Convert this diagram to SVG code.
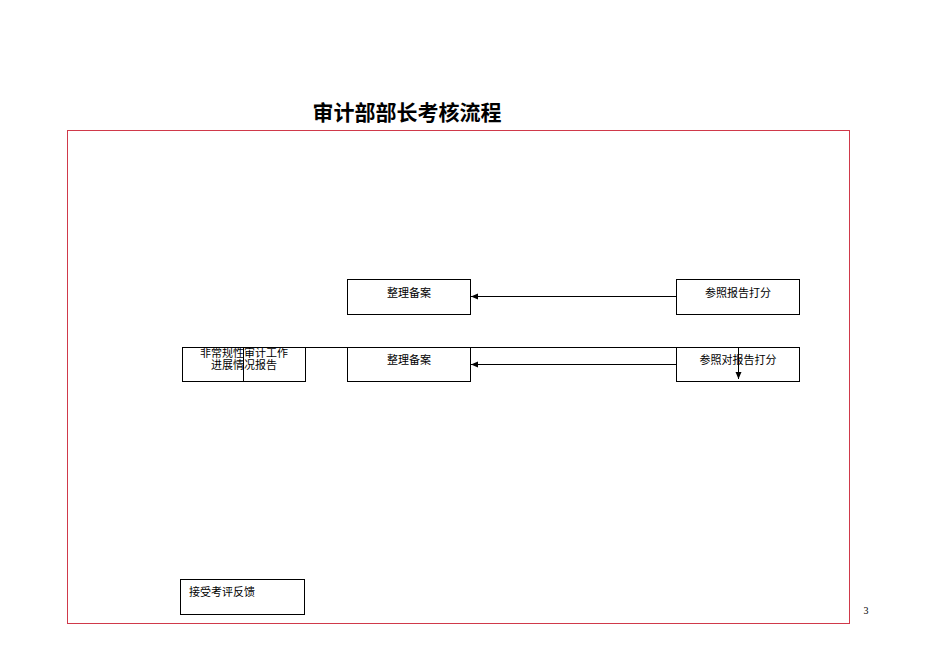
<svg xmlns="http://www.w3.org/2000/svg" width="950" height="672" viewBox="0 0 950 672">
<defs>
<style>
.b{fill:#fff;stroke:#000;stroke-width:1}
.t{font-family:"Liberation Serif","Noto Sans CJK SC",serif;font-size:11px;fill:#000}
.c{fill:none;stroke:#000;stroke-width:1}
</style>
<marker id="a" markerWidth="8" markerHeight="8" refX="7" refY="4" orient="auto" markerUnits="userSpaceOnUse"><path d="M0,1 L7,4 L0,7 Z" fill="#000"/></marker>
</defs>
<rect width="950" height="672" fill="#fff"/>
<text x="407" y="120" text-anchor="middle" style="font-family:'Noto Sans CJK SC',sans-serif;font-size:21px;font-weight:bold">审计部部长考核流程</text>
<rect x="67.5" y="130.5" width="782" height="493" fill="none" stroke="#d0394a" stroke-width="1"/>
<g id="n1"><rect class="b" x="347.5" y="279.5" width="123" height="35"/><text class="t" x="409" y="297" text-anchor="middle">整理备案</text></g>
<g id="n2"><rect class="b" x="676.5" y="279.5" width="123" height="35"/><text class="t" x="738" y="297" text-anchor="middle">参照报告打分</text></g>
<g id="n3"><rect class="b" x="182.5" y="347.5" width="123" height="34"/><text class="t" x="244" y="357" text-anchor="middle">非常规性审计工作</text><text class="t" x="244" y="369" text-anchor="middle">进展情况报告</text></g>
<g id="n4"><rect class="b" x="347.5" y="347.5" width="123" height="34"/><text class="t" x="409" y="364" text-anchor="middle">整理备案</text></g>
<g id="n5"><rect class="b" x="676.5" y="347.5" width="123" height="34"/><text class="t" x="738" y="364" text-anchor="middle">参照对报告打分</text></g>
<g id="n6"><rect class="b" x="180.5" y="579.5" width="124" height="35"/><text class="t" x="189" y="596">接受考评反馈</text></g>
<g id="connectors">
<line class="c" x1="676" y1="296.5" x2="471" y2="296.5" marker-end="url(#a)"/>
<line class="c" x1="676" y1="364.5" x2="471" y2="364.5" marker-end="url(#a)"/>
<polyline class="c" points="243.5,381 243.5,347.5 738.5,347.5 738.5,379" marker-end="url(#a)"/>
</g>
<text x="866" y="614" text-anchor="middle" style="font-family:'Liberation Serif',serif;font-size:10px">3</text>
</svg>
